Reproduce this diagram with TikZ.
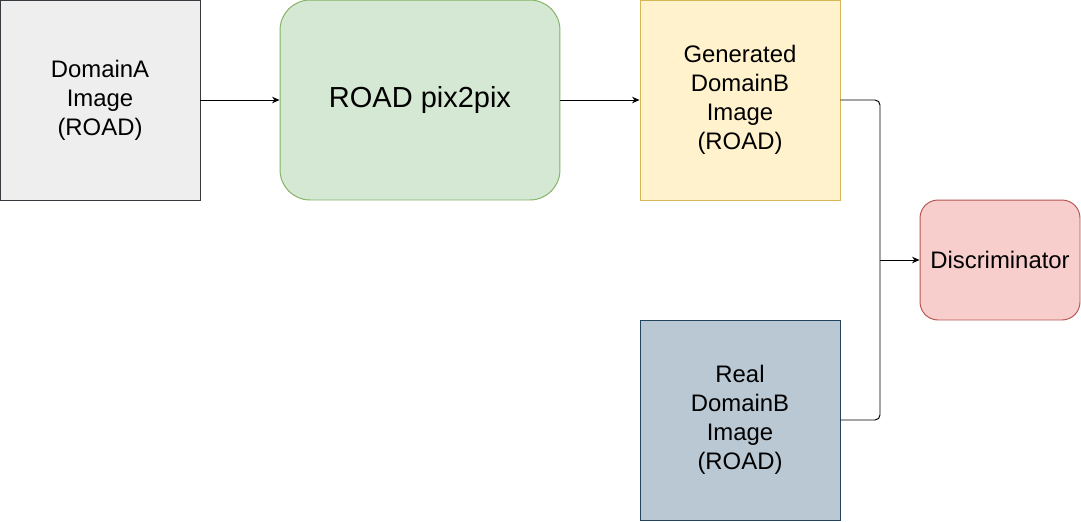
\documentclass[tikz,border=0pt]{standalone}
\usepackage{fontspec}
\setmainfont{Liberation Sans}
\usepackage{xcolor}
\usepackage{tikz}
\usetikzlibrary{arrows.meta, positioning}

\definecolor{greyfill}{HTML}{EEEEEE}
\definecolor{greyline}{HTML}{36393D}
\definecolor{greenfill}{HTML}{D5E8D4}
\definecolor{greenline}{HTML}{82B366}
\definecolor{yellowfill}{HTML}{FFF2CC}
\definecolor{yellowline}{HTML}{D6B656}
\definecolor{redfill}{HTML}{F8CECC}
\definecolor{redline}{HTML}{B85450}
\definecolor{bluefill}{HTML}{BAC8D3}
\definecolor{blueline}{HTML}{23445D}

\begin{document}
\begin{tikzpicture}[
	x=0.02cm,
	y=-0.02cm,
	box/.style={
		draw,
		line width=0.55pt,
		minimum width=4cm,
		minimum height=4cm,
		align=center,
		inner sep=0pt,
		font=\fontsize{13.6}{16.4}\selectfont
	},
	link/.style={
		line width=0.55pt,
		-{Stealth[length=0.15cm, width=0.13cm]}
	},
	wire/.style={
		line width=0.55pt,
		rounded corners=0.1cm
	}
]
	% Rahmen
	\useasboundingbox (0,0) rectangle (1081,521);
	% Quelle
	\node[
		box,
		fill=greyfill,
		draw=greyline
	] (domaina) at (100,100) {DomainA\\Image\\(ROAD)};
	% Generator
	\node[
		box,
		fill=greenfill,
		draw=greenline,
		minimum width=5.6cm,
		rounded corners=0.6cm,
		font=\fontsize{16.5}{19.5}\selectfont
	] (pixpix) at (420,100) {ROAD pix2pix};
	% Erzeugtes Bild
	\node[
		box,
		fill=yellowfill,
		draw=yellowline
	] (generated) at (740,100) {Generated\\DomainB\\Image\\(ROAD)};
	% Echtes Bild
	\node[
		box,
		fill=bluefill,
		draw=blueline
	] (real) at (740,420) {Real\\DomainB\\Image\\(ROAD)};
	% Diskriminator
	\node[
		box,
		fill=redfill,
		draw=redline,
		minimum width=3.2cm,
		minimum height=2.4cm,
		rounded corners=0.36cm
	] (disc) at (1000,260) {Discriminator};

	%  Pfeile
	\coordinate (merge) at (880,260);
	\draw [link] (domaina) to (pixpix);
	\draw [link] (pixpix) to (generated);
	\draw [wire] (generated.east) -| (merge);
	\draw [wire] (real.east) -| (merge);
	\draw [link] (merge) to (disc.west);
\end{tikzpicture}
\end{document}
